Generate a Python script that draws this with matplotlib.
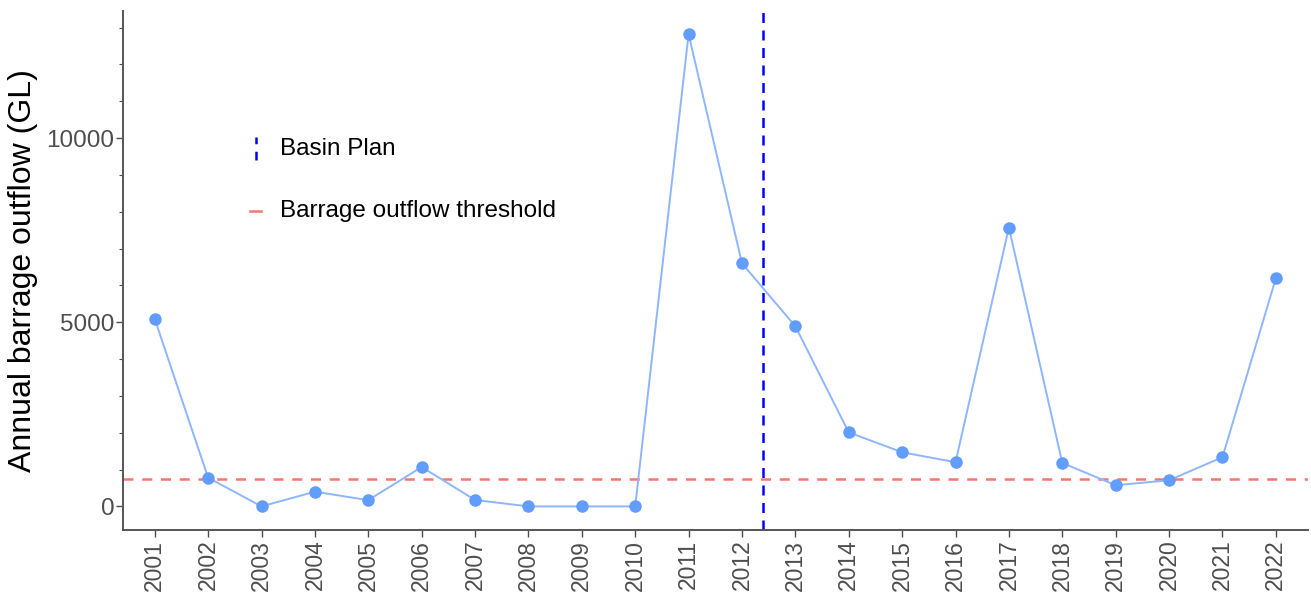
import matplotlib.pyplot as plt
from matplotlib.ticker import MultipleLocator

# annual barrage outflow (GL)
years = [2001, 2002, 2003, 2004, 2005, 2006, 2007, 2008, 2009, 2010, 2011,
         2012, 2013, 2014, 2015, 2016, 2017, 2018, 2019, 2020, 2021, 2022]
outflow = [5090, 780, 0, 400, 170, 1070, 175, 0, 0, 0, 12820,
           6600, 4890, 2010, 1470, 1200, 7570, 1180, 575, 710, 1335, 6190]
threshold = 740
basin_plan = 2012.4

plt.rcParams['font.family'] = ['Liberation Sans', 'DejaVu Sans']

fig = plt.figure(figsize=(13.11, 5.93), dpi=100)
ax = fig.add_axes([0.0936, 0.1062, 0.904, 0.876])

ax.plot(years, outflow, color='#8db6ff', lw=1.4, zorder=2)
ax.plot(years, outflow, 'o', color='#619CFF', ms=9, mec='none', zorder=3)
ax.axhline(threshold, color='#F8766D', lw=1.8, ls=(0, (4, 3.5)), zorder=1)
ax.axvline(basin_plan, color='#0000FF', lw=1.8, ls=(0, (4, 3)), zorder=1)

span = max(outflow) - min(outflow)
ax.set_xlim(years[0] - 0.6, years[-1] + 0.6)
ax.set_ylim(min(outflow) - 0.05 * span, max(outflow) + 0.05 * span)

ax.set_xticks(years)
ax.set_xticklabels([str(y) for y in years], rotation=90)
ax.set_yticks([0, 5000, 10000])
ax.yaxis.set_minor_locator(MultipleLocator(1000))
ax.tick_params(axis='x', which='major', labelsize=16.5, colors='#4D4D4D',
               length=5, width=1, pad=2)
ax.tick_params(axis='y', which='major', labelsize=17.5, colors='#4D4D4D',
               length=5, width=1, pad=1)
ax.tick_params(axis='y', which='minor', length=3, width=0.8, colors='#4D4D4D')
ax.set_ylabel('Annual barrage outflow (GL)', fontsize=23, color='black', labelpad=6)

for side in ['top', 'right']:
    ax.spines[side].set_visible(False)
for side in ['left', 'bottom']:
    ax.spines[side].set_color('#555555')
    ax.spines[side].set_linewidth(1.4)

# legend drawn by hand, no frame
ax.plot([0.1125, 0.1125], [0.713, 0.757], transform=ax.transAxes,
        color='#0000FF', lw=1.8, ls=(0, (3.5, 3)))
ax.text(0.133, 0.734, 'Basin Plan', transform=ax.transAxes,
        fontsize=17.5, va='center', ha='left')
ax.plot([0.107, 0.117], [0.615, 0.615], transform=ax.transAxes,
        color='#F8766D', lw=1.8)
ax.text(0.133, 0.615, 'Barrage outflow threshold', transform=ax.transAxes,
        fontsize=17.5, va='center', ha='left')

plt.savefig('out.png', dpi=100)
